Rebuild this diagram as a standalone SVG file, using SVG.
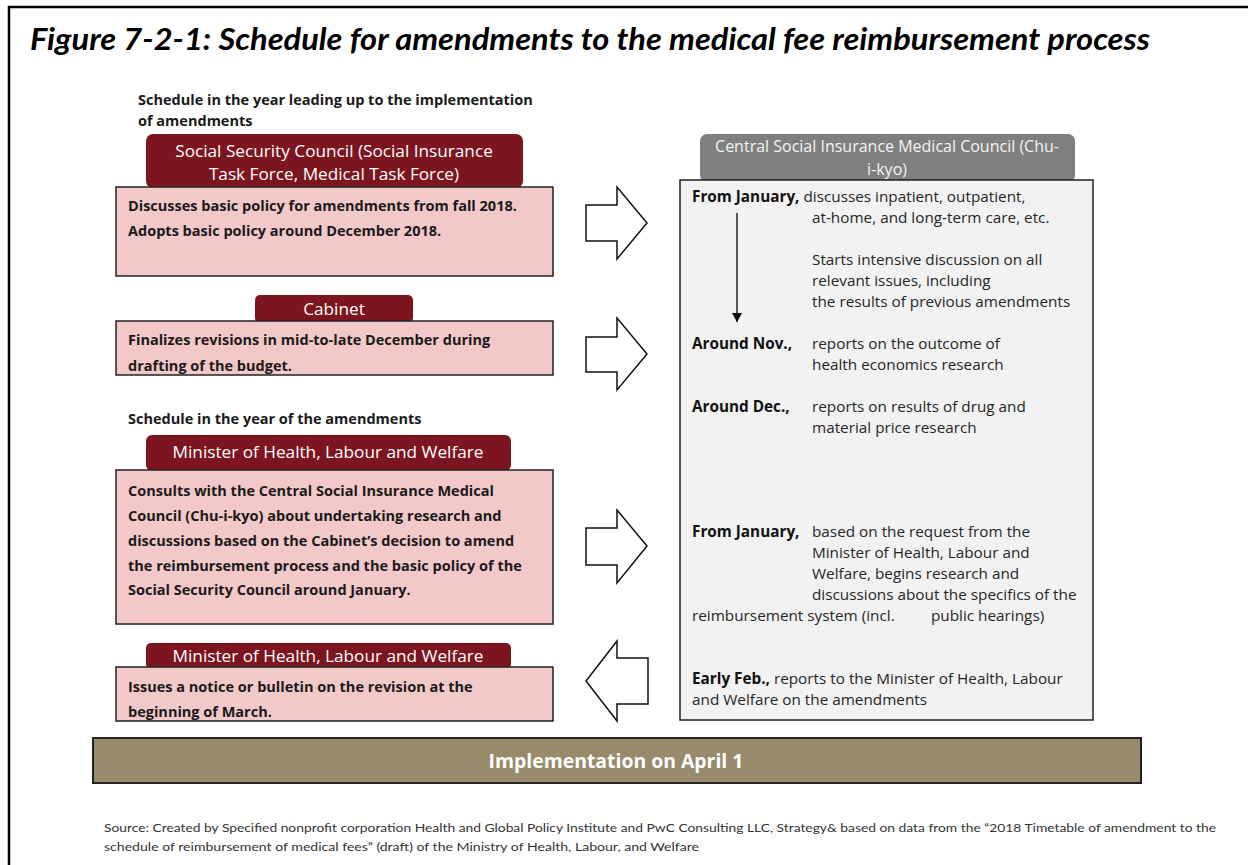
<svg xmlns="http://www.w3.org/2000/svg" width="1248" height="865" viewBox="0 0 1248 865">
  <defs>
    <style>
      .title { font-family: Lato, "Liberation Sans", sans-serif; font-weight: bold; font-style: italic; font-size: 31px; fill: #000; }
      .head { font-family: "Open Sans", "Liberation Sans", sans-serif; font-weight: bold; font-size: 14.5px; fill: #1a1a1a; }
      .tab { fill: #7d1520; }
      .tabtxt { font-family: "Open Sans", "Liberation Sans", sans-serif; font-size: 17.2px; fill: #ffffff; text-anchor: middle; }
      .pink { fill: #f2c8c8; stroke: #222; stroke-width: 1.5; }
      .ptxt { font-family: "Open Sans", "Liberation Sans", sans-serif; font-weight: bold; font-size: 14.5px; fill: #1a1a1a; }
      .gtab { fill: #7f7f7f; }
      .gtabtxt { font-family: "Open Sans", "Liberation Sans", sans-serif; font-size: 16px; fill: #f4f4f4; text-anchor: middle; }
      .gbox { fill: #f2f2f2; stroke: #222; stroke-width: 1.5; }
      .rtxt { font-family: "Open Sans", "Liberation Sans", sans-serif; font-size: 15.3px; fill: #262626; }
      .b { font-weight: bold; fill: #111; }
      .blk { fill: #ffffff; stroke: #111; stroke-width: 1.5; stroke-linejoin: miter; }
      .bar { fill: #978b6c; stroke: #222; stroke-width: 2; }
      .bartxt { font-family: "Open Sans", "Liberation Sans", sans-serif; font-weight: bold; font-size: 19.4px; fill: #ffffff; text-anchor: middle; }
      .src { font-family: Lato, "Liberation Sans", sans-serif; font-size: 12px; fill: #333; }
    </style>
    <marker id="arrowDown" markerWidth="10" markerHeight="10" refX="9" refY="5" orient="auto" markerUnits="userSpaceOnUse">
      <path d="M0,0 L9,5 L0,10 Z" fill="#000"/>
    </marker>
  </defs>

  <rect x="0" y="0" width="1248" height="865" fill="#ffffff"/>
  <!-- frame lines -->
  <path d="M9,865 L9,7 L1248,7" fill="none" stroke="#000" stroke-width="2.5"/>

  <text class="title" x="30" y="50" textLength="1120" lengthAdjust="spacingAndGlyphs">Figure 7-2-1: Schedule for amendments to the medical fee reimbursement process</text>

  <!-- left column headings -->
  <text class="head" x="138" y="105">Schedule in the year leading up to the implementation</text>
  <text class="head" x="138" y="126">of amendments</text>
  <text class="head" x="128" y="424">Schedule in the year of the amendments</text>

  <g id="social-security-council">
    <rect class="tab" x="146" y="134" width="377" height="54" rx="7"/>
    <text class="tabtxt" x="334" y="157">Social Security Council (Social Insurance</text>
    <text class="tabtxt" x="334" y="180">Task Force, Medical Task Force)</text>
    <rect class="pink" x="116" y="187" width="437" height="89"/>
    <text class="ptxt" x="128" y="211">Discusses basic policy for amendments from fall 2018.</text>
    <text class="ptxt" x="128" y="236">Adopts basic policy around December 2018.</text>
  </g>

  <g id="cabinet">
    <rect class="tab" x="255" y="295" width="158" height="28" rx="5"/>
    <text class="tabtxt" x="334" y="315">Cabinet</text>
    <rect class="pink" x="116" y="321" width="437" height="54"/>
    <text class="ptxt" x="128" y="345">Finalizes revisions in mid-to-late December during</text>
    <text class="ptxt" x="128" y="371">drafting of the budget.</text>
  </g>

  <g id="minister-consult">
    <rect class="tab" x="146" y="435" width="365" height="36" rx="6"/>
    <text class="tabtxt" x="328" y="458">Minister of Health, Labour and Welfare</text>
    <rect class="pink" x="116" y="470" width="437" height="154"/>
    <text class="ptxt" x="128" y="496">Consults with the Central Social Insurance Medical</text>
    <text class="ptxt" x="128" y="521">Council (Chu-i-kyo) about undertaking research and</text>
    <text class="ptxt" x="128" y="546">discussions based on the Cabinet’s decision to amend</text>
    <text class="ptxt" x="128" y="571">the reimbursement process and the basic policy of the</text>
    <text class="ptxt" x="128" y="595">Social Security Council around January.</text>
  </g>

  <g id="minister-notice">
    <rect class="tab" x="146" y="643" width="365" height="26" rx="5"/>
    <text class="tabtxt" x="328" y="662">Minister of Health, Labour and Welfare</text>
    <rect class="pink" x="116" y="667" width="437" height="54"/>
    <text class="ptxt" x="128" y="692">Issues a notice or bulletin on the revision at the</text>
    <text class="ptxt" x="128" y="717">beginning of March.</text>
  </g>

  <g id="chuikyo">
    <rect class="gtab" x="700" y="134" width="375" height="48" rx="7"/>
    <text class="gtabtxt" x="887" y="152">Central Social Insurance Medical Council (Chu-</text>
    <text class="gtabtxt" x="887" y="175">i-kyo)</text>
    <rect class="gbox" x="680" y="180" width="413" height="540"/>
    <text class="rtxt" x="692" y="202"><tspan class="b">From January,</tspan> discusses inpatient, outpatient,</text>
    <text class="rtxt" x="812" y="223">at-home, and long-term care, etc.</text>
    <text class="rtxt" x="812" y="265">Starts intensive discussion on all</text>
    <text class="rtxt" x="812" y="286">relevant issues, including</text>
    <text class="rtxt" x="812" y="307">the results of previous amendments</text>
    <text class="rtxt b" x="692" y="349">Around Nov.,</text>
    <text class="rtxt" x="812" y="349">reports on the outcome of</text>
    <text class="rtxt" x="812" y="370">health economics research</text>
    <text class="rtxt b" x="692" y="412">Around Dec.,</text>
    <text class="rtxt" x="812" y="412">reports on results of drug and</text>
    <text class="rtxt" x="812" y="433">material price research</text>
    <text class="rtxt b" x="692" y="537">From January,</text>
    <text class="rtxt" x="812" y="537">based on the request from the</text>
    <text class="rtxt" x="812" y="558">Minister of Health, Labour and</text>
    <text class="rtxt" x="812" y="579">Welfare, begins research and</text>
    <text class="rtxt" x="812" y="600">discussions about the specifics of the</text>
    <text class="rtxt" x="692" y="621">reimbursement system (incl.</text>
    <text class="rtxt" x="931" y="621">public hearings)</text>
    <text class="rtxt" x="692" y="684"><tspan class="b">Early Feb.,</tspan> reports to the Minister of Health, Labour</text>
    <text class="rtxt" x="692" y="705">and Welfare on the amendments</text>
  </g>

  <g id="connectors">
    <line x1="737" y1="213" x2="737" y2="322" stroke="#000" stroke-width="1.3" marker-end="url(#arrowDown)"/>
    <path class="blk" d="M586,205 L617,205 L617,187 L647,223 L617,259 L617,241 L586,241 Z"/>
    <path class="blk" d="M586,337 L617,337 L617,318 L647,354 L617,390 L617,372 L586,372 Z"/>
    <path class="blk" d="M586,528 L617,528 L617,510 L647,546 L617,583 L617,565 L586,565 Z"/>
    <path class="blk" d="M648,658 L617,658 L617,641 L586,681 L617,721 L617,704 L648,704 Z"/>
  </g>

  <g id="implementation">
    <rect class="bar" x="93" y="738" width="1048" height="45"/>
    <text class="bartxt" x="616" y="768">Implementation on April 1</text>
  </g>

  <text class="src" x="104" y="832" textLength="1112" lengthAdjust="spacingAndGlyphs">Source: Created by Specified nonprofit corporation Health and Global Policy Institute and PwC Consulting LLC, Strategy&amp; based on data from the “2018 Timetable of amendment to the</text>
  <text class="src" x="104" y="851" textLength="595" lengthAdjust="spacingAndGlyphs">schedule of reimbursement of medical fees” (draft) of the Ministry of Health, Labour, and Welfare</text>
</svg>
